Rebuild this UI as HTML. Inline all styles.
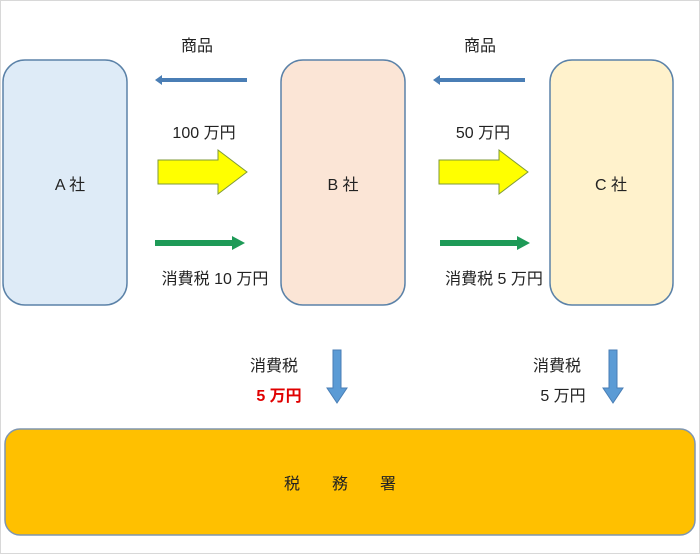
<!DOCTYPE html>
<html><head><meta charset="utf-8"><style>
html,body{margin:0;padding:0;background:#fff;}
svg{display:block;}
text{font-family:"Liberation Sans","Noto Sans CJK JP",sans-serif;font-size:16px;fill:#222;}
</style></head><body>
<svg width="700" height="554" viewBox="0 0 700 554" xmlns="http://www.w3.org/2000/svg">
<rect x="0.5" y="0.5" width="699" height="553" fill="#fff" stroke="#d8d8d8"/>
<rect x="3" y="60" width="124" height="245" rx="22" fill="#DEEBF7" stroke="#5B82A8" stroke-width="1.5"/>
<rect x="281" y="60" width="124" height="245" rx="22" fill="#FBE5D6" stroke="#5B82A8" stroke-width="1.5"/>
<rect x="550" y="60" width="123" height="245" rx="22" fill="#FFF2CC" stroke="#5B82A8" stroke-width="1.5"/>
<rect x="5" y="429" width="690" height="106" rx="15" fill="#FFC000" stroke="#7F96B0" stroke-width="1.5"/>
<text x="70" y="190" text-anchor="middle">A 社</text>
<text x="343" y="190" text-anchor="middle">B 社</text>
<text x="611" y="190" text-anchor="middle">C 社</text>
<text x="340" y="489" text-anchor="middle">税　　務　　署</text>
<g fill="#4A7EB5">
<rect x="160" y="78" width="87" height="4"/><polygon points="155,80 162,75 162,85"/>
<rect x="438" y="78" width="87" height="4"/><polygon points="433,80 440,75 440,85"/>
</g>
<polygon points="158,160 218,160 218,150 247,172 218,194 218,184 158,184" fill="#FFFF00" stroke="#7F9A3A" stroke-width="1"/>
<polygon points="439,160 499,160 499,150 528,172 499,194 499,184 439,184" fill="#FFFF00" stroke="#7F9A3A" stroke-width="1"/>
<g fill="#1E9A57">
<rect x="155" y="240" width="78" height="6"/><polygon points="232,236 245,243 232,250"/>
<rect x="440" y="240" width="78" height="6"/><polygon points="517,236 530,243 517,250"/>
</g>
<g fill="#5B9BD5" stroke="#4A7EB5" stroke-width="1">
<polygon points="333,350 341,350 341,388 347,388 337,403 327,388 333,388"/>
<polygon points="609,350 617,350 617,388 623,388 613,403 603,388 609,388"/>
</g>
<text x="197" y="51" text-anchor="middle">商品</text>
<text x="204" y="138" text-anchor="middle">100 万円</text>
<text x="215" y="284" text-anchor="middle">消費税 10 万円</text>
<text x="480" y="51" text-anchor="middle">商品</text>
<text x="483" y="138" text-anchor="middle">50 万円</text>
<text x="494" y="284" text-anchor="middle">消費税 5 万円</text>
<text x="274" y="371" text-anchor="middle">消費税</text>
<text x="279" y="401" text-anchor="middle" style="fill:#E00000;font-weight:bold">5 万円</text>
<text x="557" y="371" text-anchor="middle">消費税</text>
<text x="563" y="401" text-anchor="middle">5 万円</text>
</svg>
</body></html>
